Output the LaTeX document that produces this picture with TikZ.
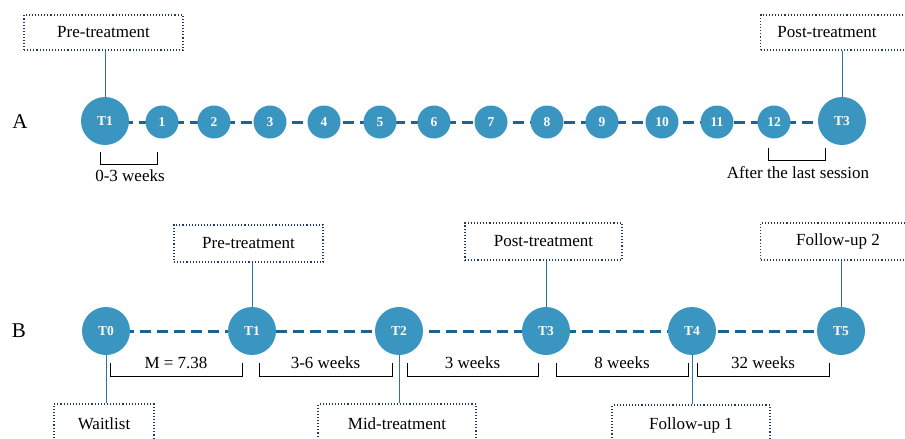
\documentclass[tikz,border=0pt]{standalone}
\usepackage{fontspec}
\setmainfont{Liberation Serif}
\definecolor{cfill}{HTML}{3A96C1}
\definecolor{cdash}{HTML}{1D6390}
\definecolor{cline}{HTML}{2A76A2}
\definecolor{cbox}{HTML}{1F3A66}
\tikzset{
  big/.style={circle,fill=cfill,draw=none,minimum size=48pt,inner sep=0pt,text=white,font=\fontsize{13.5}{15}\selectfont\bfseries},
  small/.style={circle,fill=cfill,draw=none,minimum size=33pt,inner sep=0pt,text=white,font=\fontsize{13.5}{15}\selectfont\bfseries},
  tbox/.style={draw=cbox,dotted,line width=1.1pt,inner sep=0pt,font=\fontsize{17}{19}\selectfont},
  lbl/.style={inner sep=0pt,font=\fontsize{17}{19}\selectfont},
  tl/.style={cdash,line width=3pt,dash pattern=on 11pt off 6pt},
  conn/.style={cline,line width=0.9pt},
  brk/.style={black,line width=0.8pt},
}
\begin{document}
\begin{tikzpicture}[x=1pt,y=-1pt]
\useasboundingbox (0,0) rectangle (905,439);
\clip (0,0) rectangle (905,439);
% ---------- Row A ----------
\node[lbl,font=\fontsize{21}{24}\selectfont] (labA) at (20,122) {A};
\coordinate (a0) at (105,122);
\coordinate (a13) at (842,122);
\draw[tl] (a0) -- (a13);
\node[big] (A0) at (105,121) {T1};
\foreach \n/\x in {1/162,2/214,3/270,4/324,5/380,6/434,7/491,8/547,9/602,10/662,11/717,12/774}
  \node[small] (A\n) at (\x,122) {\n};
\node[big] (A13) at (842,121) {T3};
\node[tbox,minimum width=159pt,minimum height=35pt] (preA) at (103.5,32.5) {Pre-treatment};
\node[tbox,minimum width=150pt,minimum height=35pt,anchor=west] (postA) at (760,32.5) {};
\node[lbl] (postAt) at (827,32.5) {Post-treatment};
\draw[conn] (A0.north) -- (A0.north |- preA.south);
\draw[conn] (A13.north) -- (A13.north |- postA.south);
\draw[brk] (100,152) -- (100,164) -- (157,164) -- (157,152);
\node[lbl] (wA) at (130,176) {0-3 weeks};
\draw[brk] (768,148) -- (768,160) -- (825,160) -- (825,148);
\node[lbl] (lastA) at (798,173) {After the last session};
% ---------- Row B ----------
\node[lbl,font=\fontsize{21}{24}\selectfont] (labB) at (19,331) {B};
\coordinate (b0) at (106,331);
\coordinate (b5) at (841,331);
\draw[tl] (b0) -- (b5);
\node[big] (B0) at (106,331) {T0};
\node[big] (B1) at (252,331) {T1};
\node[big] (B2) at (399,331) {T2};
\node[big] (B3) at (546,331) {T3};
\node[big] (B4) at (692,331) {T4};
\node[big] (B5) at (841,331) {T5};
\node[tbox,minimum width=149pt,minimum height=37pt] (preB) at (248.5,243.5) {Pre-treatment};
\node[tbox,minimum width=157pt,minimum height=37pt] (postB) at (543.5,241.5) {Post-treatment};
\node[tbox,minimum width=150pt,minimum height=37pt,anchor=west] (fu2) at (760,241.5) {};
\node[lbl] (fu2t) at (838,241.5) {Follow-up 2};
\node[tbox,minimum width=100pt,minimum height=40pt] (wait) at (104,424) {Waitlist};
\node[tbox,minimum width=158pt,minimum height=40pt] (mid) at (397,424) {Mid-treatment};
\node[tbox,minimum width=158pt,minimum height=40pt] (fu1) at (691,425) {Follow-up 1};
\draw[conn] (B1.north) -- (B1.north |- preB.south);
\draw[conn] (B3.north) -- (B3.north |- postB.south);
\draw[conn] (B5.north) -- (B5.north |- fu2.south);
\draw[conn] (B0.south) -- (B0.south |- wait.north);
\draw[conn] (B2.south) -- (B2.south |- mid.north);
\draw[conn] (B4.south) -- (B4.south |- fu1.north);
\foreach \a/\b/\t [count=\i] in {110/242/{M = 7.38},259/392/{3-6 weeks},407/538/{3 weeks},556/688/{8 weeks},697/829/{32 weeks}}{
  \draw[brk] (\a,363) -- (\a,376) -- (\b,376) -- (\b,363);
  \node[lbl] (bt\i) at ({(\a+\b)/2},363) {\t};
}
\end{tikzpicture}
\end{document}
